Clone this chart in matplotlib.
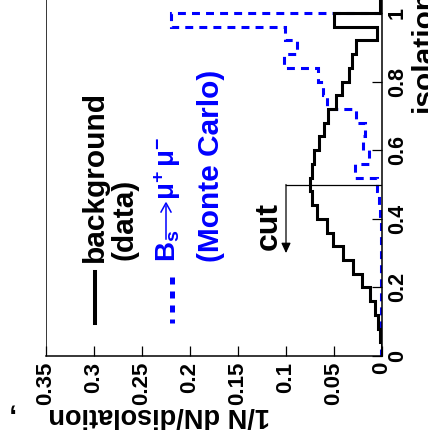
import numpy as np
import matplotlib
matplotlib.use("Agg")
import matplotlib.pyplot as plt
from matplotlib import font_manager

# isolation bins (width 0.04), last black bin is the small overflow above 1
bin_edges = np.round(np.arange(26) * 0.04, 2)
over_edges = [1.0, 1.1]

background = [0.0005, 0.002, 0.0038, 0.0073, 0.0125, 0.021, 0.0305, 0.041,
              0.051, 0.0576, 0.068, 0.073, 0.0755, 0.073, 0.0708, 0.066,
              0.060, 0.056, 0.048, 0.042, 0.034, 0.0316, 0.027, 0.0055, 0.050]
background_over = [0.002]

signal_mc = [0.0012, 0.0012, 0.0012, 0.0012, 0.0012, 0.0012, 0.0012, 0.0012,
             0.0012, 0.0012, 0.002, 0.003, 0.005, 0.028, 0.0135, 0.020,
             0.0177, 0.027, 0.057, 0.061, 0.067, 0.102, 0.089, 0.101, 0.220]

dens_ticks = [0, 0.05, 0.1, 0.15, 0.2, 0.25, 0.3, 0.35]
dens_labels = ["0", "0.05", "0.1", "0.15", "0.2", "0.25", "0.3", "0.35"]
iso_ticks = [0, 0.2, 0.4, 0.6, 0.8, 1.0]
iso_labels = ["0", "0.2", "0.4", "0.6", "0.8", "1"]

cut_value = 0.5
cut_arrow_end = 0.3
cut_height = 0.1

BLUE = "#0000ff"
W, H = 428, 447


def fx(px):
    return px / W


def fy(py):
    return 1 - py / H


installed = {f.name for f in font_manager.fontManager.ttflist}
base_font = "Liberation Sans"
narrow_font = "Liberation Sans Narrow" if "Liberation Sans Narrow" in installed else base_font

plt.rcParams["font.family"] = [base_font, "DejaVu Sans"]
plt.rcParams["font.weight"] = "bold"
plt.rcParams["mathtext.fontset"] = "custom"
plt.rcParams["mathtext.rm"] = base_font
plt.rcParams["mathtext.bf"] = base_font + ":bold"
plt.rcParams["mathtext.it"] = base_font + ":italic"

fig = plt.figure(figsize=(W / 100, H / 100), dpi=100)
ax = fig.add_axes([fx(46), fy(356), (382 - 46) / W, 356 / H])

# histograms: isolation runs up the page, density runs right to left
ax.stairs(signal_mc, bin_edges, orientation="horizontal", color=BLUE,
          lw=2.2, ls=(0, (2.6, 2.0)))
ax.stairs(background, bin_edges, orientation="horizontal", color="k", lw=2.2)
ax.stairs(background_over, over_edges, orientation="horizontal", color="k", lw=2.2)

# cut marker
ax.plot([0, cut_height], [cut_value, cut_value], color="k", lw=0.9)
ax.annotate("", xy=(cut_height, cut_arrow_end), xytext=(cut_height, cut_value),
            arrowprops=dict(arrowstyle="-|>,head_length=0.6,head_width=0.28",
                            color="k", lw=0.9, shrinkA=0, shrinkB=0))

ax.set_xlim(0.35, 0)
ax.set_ylim(0, 356 / 343)
ax.spines["left"].set_visible(False)
ax.spines["top"].set_visible(False)
for s in ("bottom", "right"):
    ax.spines[s].set_linewidth(1.1)
ax.axvline(0.35, color="k", lw=1.1)

ax.yaxis.tick_right()
ax.tick_params(axis="both", direction="in", length=7.5, width=0.9)
ax.tick_params(axis="x", pad=4.3)
ax.tick_params(axis="y", pad=3.6)
ax.set_xticks(dens_ticks, dens_labels, rotation=90, fontfamily=narrow_font,
              fontsize=16, fontweight="bold")
ax.set_yticks(iso_ticks, iso_labels, rotation=90, va="center",
              fontsize=15.5, fontweight="bold")

# axis titles
fig.text(fx(432), fy(112), "isolation", rotation=90, rotation_mode="anchor",
         ha="left", va="baseline", fontsize=21.5, fontweight="bold")
fig.text(fx(270), fy(408), "1/N dN/disolation", rotation=180,
         rotation_mode="anchor", ha="left", va="baseline", fontsize=19.5,
         fontweight="bold")
fig.text(fx(14), fy(408), ",", rotation=180, rotation_mode="anchor",
         ha="left", va="baseline", fontsize=19.5, fontweight="bold")

# cut label
fig.text(fx(277), fy(250), "cut", rotation=90, rotation_mode="anchor",
         ha="left", va="baseline", fontsize=23, fontweight="bold")

# legend
fig.add_artist(plt.Line2D([fx(95), fx(95)], [fy(272), fy(323)], color="k", lw=2.9))
fig.add_artist(plt.Line2D([fx(172), fx(172)], [fy(277), fy(323)], color=BLUE,
                          lw=3.6, ls=(0, (1.4, 1.4))))
fig.text(fx(103), fy(262), "background", rotation=90, rotation_mode="anchor",
         ha="left", va="baseline", fontsize=21.5, fontweight="bold")
fig.text(fx(132), fy(260), "(data)", rotation=90, rotation_mode="anchor",
         ha="left", va="baseline", fontsize=21.5, fontweight="bold")
fig.text(fx(175), fy(262), r"$\mathbf{B}_{\mathbf{s}}$", rotation=90,
         rotation_mode="anchor", ha="left", va="baseline", fontsize=20,
         color=BLUE)
fig.add_artist(plt.Line2D([fx(166), fx(166)], [fy(239), fy(206)], color=BLUE, lw=1.1))
fig.add_artist(plt.Line2D([fx(161), fx(166), fx(171)], [fy(212), fy(203), fy(212)],
                          color=BLUE, lw=1.1))
fig.text(fx(175), fy(200), r"$\mathrm{\mu}^{+}\,\mathrm{\mu}^{-}$", rotation=90,
         rotation_mode="anchor", ha="left", va="baseline", fontsize=20,
         color=BLUE)
fig.text(fx(219), fy(262), "(Monte Carlo)", rotation=90, rotation_mode="anchor",
         ha="left", va="baseline", fontsize=21.5, fontweight="bold", color=BLUE)

fig.savefig("out.png", dpi=100)
